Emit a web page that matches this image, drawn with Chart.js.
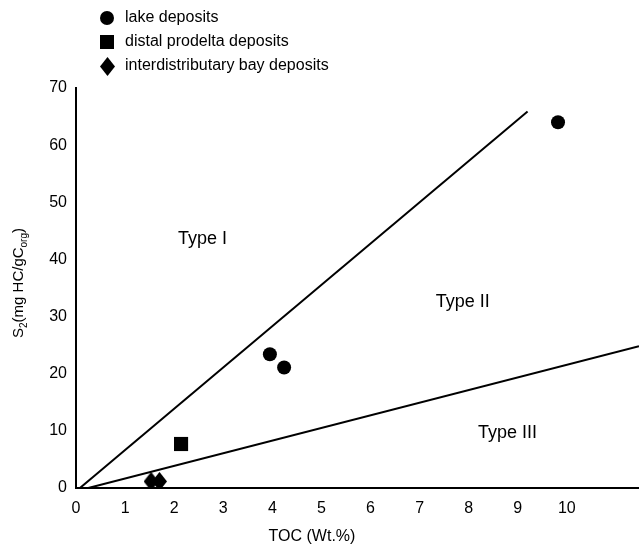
<!DOCTYPE html>
<html>
<head>
<meta charset="utf-8">
<script src="https://cdn.jsdelivr.net/npm/chart.js@4"></script>
<style>
  html, body { margin: 0; padding: 0; background: #fff; }
  #wrap { width: 639px; height: 549px; }
</style>
</head>
<body>
<div id="wrap"><canvas id="chart" width="639" height="549"></canvas></div>
<script>
// data
const lakeX = [9.82, 3.95, 4.24];
const lakeY = [64.0, 23.4, 21.1];
const prodeltaX = [2.14];
const prodeltaY = [7.7];
const bayX = [1.53, 1.70];
const bayY = [1.15, 1.15];

// boundary lines between kerogen types
const typeILineX = [0.08, 9.2];
const typeILineY = [0, 65.9];
const typeIIILineX = [0.25, 11.47];
const typeIIILineY = [0, 24.8];

const xTicks = [0, 1, 2, 3, 4, 5, 6, 7, 8, 9, 10];
const yTicks = [0, 10, 20, 30, 40, 50, 60, 70];

const regionLabels = ["Type I", "Type II", "Type III"];
const regionX = [2.08, 7.33, 8.19];
const regionY = [43.5, 32.6, 9.7];

const legendNames = ["lake deposits", "distal prodelta deposits", "interdistributary bay deposits"];
const xTitle = "TOC (Wt.%)";

const FONT = "'Liberation Sans', Arial, sans-serif";

function pts(xs, ys) {
    return xs.map((x, i) => ({ x: x, y: ys[i] }));
}

// tall diamond marker, as in the figure
function diamond(w, h) {
    const cv = document.createElement('canvas');
    cv.width = w; cv.height = h;
    const g = cv.getContext('2d');
    g.fillStyle = '#000';
    g.beginPath();
    g.moveTo(w / 2, 0);
    g.lineTo(w, h / 2);
    g.lineTo(w / 2, h);
    g.lineTo(0, h / 2);
    g.closePath();
    g.fill();
    return cv;
}
const diamondImg = diamond(15, 19);

// texts: legend, region names, axis titles
const extras = {
    id: 'extras',
    afterDraw(chart) {
        const c = chart.ctx;
        const xs = chart.scales.x, ys = chart.scales.y;
        c.save();
        c.fillStyle = '#000';

        // legend
        c.font = '16px ' + FONT;
        c.textBaseline = 'middle';
        c.textAlign = 'left';
        legendNames.forEach((name, i) => {
            const y = 18 + i * 24;
            if (i === 0) {
                c.beginPath(); c.arc(107, y, 7, 0, Math.PI * 2); c.fill();
            } else if (i === 1) {
                c.fillRect(100, y - 7, 14, 14);
            } else {
                c.drawImage(diamondImg, 100, y - 9);
            }
            c.fillText(name, 125, y);
        });

        // region labels
        c.font = '18px ' + FONT;
        regionLabels.forEach((t, i) => {
            c.fillText(t, xs.getPixelForValue(regionX[i]), ys.getPixelForValue(regionY[i]));
        });

        // x title
        c.font = '16px ' + FONT;
        c.textAlign = 'center';
        c.fillText(xTitle, 312, 537);

        // y axis title, rotated, with subscripts
        c.textAlign = 'left';
        c.translate(23, 283);
        c.rotate(-Math.PI / 2);
        c.textBaseline = 'alphabetic';
        const parts = [['S', 15, 0], ['2', 10, 4], ['(mg HC/gC', 15, 0], ['org', 10, 4], [')', 15, 0]];
        let w = 0;
        parts.forEach(p => { c.font = p[1] + 'px ' + FONT; w += c.measureText(p[0]).width; });
        let x = -w / 2;
        parts.forEach(p => {
            c.font = p[1] + 'px ' + FONT;
            c.fillText(p[0], x, p[2]);
            x += c.measureText(p[0]).width;
        });
        c.restore();
    }
};

const ctx = document.getElementById('chart').getContext('2d');
const chart = new Chart(ctx, {
    type: 'scatter',
    data: {
        datasets: [
            {
                label: 'Type I boundary',
                data: pts(typeILineX, typeILineY),
                showLine: true,
                borderColor: '#000',
                borderWidth: 2,
                pointRadius: 0,
                pointHoverRadius: 0
            },
            {
                label: 'Type III boundary',
                data: pts(typeIIILineX, typeIIILineY),
                showLine: true,
                borderColor: '#000',
                borderWidth: 2,
                pointRadius: 0,
                pointHoverRadius: 0
            },
            {
                label: legendNames[0],
                data: pts(lakeX, lakeY),
                pointStyle: 'circle',
                pointRadius: 7,
                backgroundColor: '#000',
                borderWidth: 0
            },
            {
                label: legendNames[1],
                data: pts(prodeltaX, prodeltaY),
                pointStyle: 'rect',
                pointRadius: 10,
                backgroundColor: '#000',
                borderWidth: 0
            },
            {
                label: legendNames[2],
                data: pts(bayX, bayY),
                pointStyle: diamondImg,
                pointRadius: 8,
                backgroundColor: '#000',
                borderWidth: 0
            }
        ]
    },
    options: {
        responsive: false,
        animation: false,
        layout: { autoPadding: false, padding: { top: 88, right: 0, left: 0, bottom: 0 } },
        plugins: {
            legend: { display: false },
            tooltip: { enabled: false }
        },
        scales: {
            x: {
                type: 'linear',
                min: 0,
                max: 11.47,
                afterBuildTicks: s => { s.ticks = xTicks.map(v => ({ value: v })); },
                afterFit: s => { s.height = 61; s.paddingLeft = 0; s.paddingRight = 0; },
                grid: { display: false, drawTicks: true, tickLength: 6, tickColor: '#000', tickWidth: 2 },
                border: { display: true, color: '#000', width: 2 },
                ticks: { color: '#000', font: { family: FONT, size: 16 }, padding: 5, maxRotation: 0 }
            },
            y: {
                type: 'linear',
                min: 0,
                max: 70,
                afterBuildTicks: s => { s.ticks = yTicks.map(v => ({ value: v })); },
                afterFit: s => { s.width = 76; s.paddingTop = 0; s.paddingBottom = 0; },
                grid: { display: false, drawTicks: true, tickLength: 6, tickColor: '#000', tickWidth: 2 },
                border: { display: true, color: '#000', width: 2 },
                ticks: { color: '#000', font: { family: FONT, size: 16 }, padding: 3 }
            }
        }
    },
    plugins: [extras]
});
</script>
</body>
</html>
